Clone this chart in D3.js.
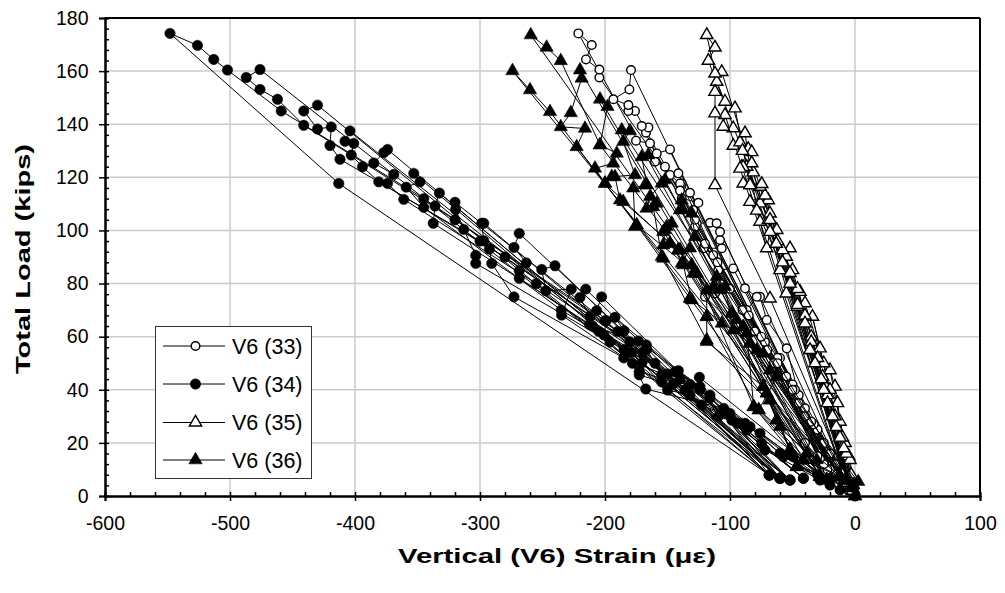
<!DOCTYPE html>
<html><head><meta charset="utf-8">
<script src="https://cdn.jsdelivr.net/npm/d3@7"></script>
<style>body{margin:0;background:#fff}svg{display:block}</style>
</head><body><svg id="c" width="1005" height="593"></svg>
<script>
const xTicks = [-600,-500,-400,-300,-200,-100,0,100];
const yTicks = [0,20,40,60,80,100,120,140,160,180];
const seriesNames = ["V6 (33)","V6 (34)","V6 (35)","V6 (36)"];
const xTitle = "Vertical (V6) Strain (\u03bc\u03b5)";
const yTitle = "Total Load (kips)";

// [strain (με), load (kips)] in recorded order
const v6_33 = [
[0,0],[-8,8],[-20,16],[-30,25],[-40,33],[-50,42],[-60,52],
[-3,3],[-15,12],[-33,27],[-45,38],[-54.6,55.6],[-70.6,66.3],[-76,75],
[-8,6],[-25,20],[-48,40],[-62,52],[-86.6,70],[-78.6,75],[-88,78.2],
[-10,5],[-35,28],[-65,50],[-120,75],[-112,76.3],[-109.4,85.1],[-97.4,85.7],
[-12,6],[-40,30],[-72,58],[-113.4,90.7],[-121.4,93.3],[-106.6,93.3],[-108,96.4],[-108,99.5],
[-15,8],[-45,35],[-80,62],[-121,93.3],[-129.4,100.2],[-126.6,102.7],[-116,102.9],[-110.7,102.7],
[-18,9],[-50,40],[-90,70],[-128,101.4],[-129.4,107.7],[-125.3,110.4],[-138.6,112.1],[-132,114.2],
[-20,10],[-55,45],[-100,78],[-138.6,117.7],[-140,117.7],[-148,120.9],[-141.3,121.5],
[-22,10],[-62,50],[-110,88],[-152,124],[-160,125.9],[-158.6,129],[-148,130.5],
[-25,12],[-70,55],[-120,95],[-164,132.8],[-175.2,133.8],[-167.2,136.8],[-165.3,138.8],[-170.6,139.3],
[-28,14],[-75,60],[-128,104],[-176,145],[-181.3,145],[-181.3,147.2],[-193.3,149.4],[-180.5,153.1],[-179.2,160.4],
[-30,15],[-85,68],[-140,115],[-204.5,157.6],[-204.5,160.6],[-215.2,164.4],[-210.6,169.8],[-221.3,174.2],
[-40,20],[-5,2]
];
const v6_34 = [
[0,0],[-20,6.5],[-49.4,14.8],[-76,23.6],[-100,31.1],[-116,36.8],[-124.5,44.7],
[-12,2.3],[-30,8],[-57.4,14.8],[-84,26.1],[-109.3,29.9],[-124,41.2],[-141.3,47.2],
[-20,4.1],[-60,16.1],[-88,27.4],[-122.6,34.3],[-136,39.9],[-145.3,42.2],[-154.7,45.6],[-166.6,55.2],[-173.3,58.4],
[-28,6],[-72,17.3],[-93.3,27.4],[-132,38],[-149.9,39.9],[-170.4,50.2],[-178.6,54],[-184.8,62.2],[-192,67.3],
[-41.3,6.7],[-74.6,19.8],[-86.7,24.8],[-154.7,43],[-172.6,45.6],[-184.8,55.2],[-200.8,60.6],[-199,66],[-206.7,69.8],[-202.7,75],
[-52,6],[-98.6,28.6],[-144,46.8],[-167,56.9],[-212.5,64.6],[-212,67.5],[-220,74.8],[-215.4,77.9],
[-60,6.7],[-105,33],[-167.4,40.3],[-178,50],[-234.7,68.1],[-227,77.9],[-247.4,77.3],[-250.6,85.3],[-240,86.7],
[-68.6,7.9],[-116,38],[-172.6,47],[-205,62],[-268.6,82],[-268.6,84.8],[-263,87.8],[-272.8,93.6],[-268.6,98.9],
[-60,6.7],[-124,40],[-185,52],[-272.8,75],[-290.6,87.6],[-292.5,93],[-297,96.1],[-298.6,102.7],[-297,102.7],
[-52,6],[-132,42],[-196,58],[-303.4,87.6],[-303.4,90.6],[-313,100.4],[-319.5,107.9],[-320,110.6],
[-41.3,6.7],[-140,44],[-210,64],[-337.4,102.7],[-336,109.2],[-332.5,114.1],
[-60,6.7],[-150,46],[-235,70],[-345,108.7],[-359,116.3],[-348,118.3],[-353,121.5],
[-68.6,7.9],[-160,50],[-255,80],[-361,111.7],[-374,117.7],[-369,121.1],[-385,125.4],[-377,129.3],[-374,130.5],
[-60,6.7],[-170,54],[-280,90],[-381,118.3],[-394,124],[-403,128.4],[-401,132.8],[-408,133.6],[-404,137.5],
[-52,6],[-180,58],[-300,96],[-412,126.8],[-420,132],[-419,139],[-430,138.2],[-441,145],[-430,147.2],
[-68.6,7.9],[-190,62],[-320,104],[-441,139.6],[-462,149.4],[-476,153.1],[-487,157.6],[-476,160.6],
[-60,6.7],[-200,66],[-345,112],[-459,145],[-502,160.4],[-513,164.4],[-526,169.7],[-548,174.2],[-413,117.7],[-68.6,7.9]
];
const v6_35 = [
[0,0],[-3,8],[-5,15],[-8,20],[-12,28],[-16,41.2],[-20,47.4],
[-1,2],[-4,13.6],[-10,22],[-14,35],[-20,40],[-28,55.6],[-34,67.5],
[-2,3],[-7,16],[-16,30],[-25,50],[-40,72.6],[-46,71.3],[-44,76.9],[-55,76.3],
[-3,4],[-9,18],[-22,38],[-35,60],[-50,85.1],[-60,85.1],[-55,90.1],[-52,93.3],[-58,92.6],
[-4,5],[-12,22],[-26,45],[-40,68],[-62.6,100.2],[-68,99.5],[-70.6,93.3],[-76,103.3],[-69.4,103.9],
[-5.6,6.8],[-15,26],[-30,52],[-46,78],[-68,106.4],[-69.4,111.4],[-76,110.2],[-84,110.8],[-72,113.2],
[-6,5],[-18,30],[-35,58],[-52,84],[-76,116.5],[-84,117.1],[-74.6,117.5],[-89.4,117.7],[-81.4,121.9],
[-8,7],[-22,35],[-40,65],[-62,96],[-86.6,124],[-90.6,124],[-82.6,125.3],[-89.4,123.9],[-92,123.3],
[-10,8],[-25,40],[-46,72],[-68,104],[-85.4,130.7],[-82.6,129.5],[-97.4,131.9],[-92,133.2],
[-6,6],[-27,44],[-52,80],[-78.6,107.5],[-88,136.6],[-97.4,138.5],[-105.4,139.1],[-104,143.5],
[-8,6],[-32,50],[-58,88],[-84,117.1],[-96,146],[-104,148.5],[-110.6,156],[-106.6,159.7],
[-3,3],[-36,55],[-63,95],[-90,130],[-117.3,163.9],[-112,168.9],[-118.6,173.6],[-112,159.1],[-112,152.2],[-112,144.1],[-112,117.1],[-68,74.4],[-2,2]
];
const v6_36 = [
[0,0],[-12,7.3],[-28,7.3],[-41.4,13.6],[-52,17.3],[-62.6,28.6],[-70.6,38.7],
[-1.4,4.1],[-22.6,6],[-38.6,16.1],[-60,26.1],[-68,36.1],[-73.4,41.2],[-68,47.4],
[2.6,5.4],[-6.6,6],[-46.6,11],[-30.6,13.6],[-77,32.4],[-62.6,44.9],[-73.4,53.7],[-78.6,55],[-84,57.5],
[-12,7.3],[-52,17.3],[-81,33.6],[-86.6,61.3],[-89.4,63.7],[-94.6,66.3],[-98.6,68.8],
[-6.6,6],[-41.4,13.6],[-70.6,38.7],[-97.4,62.5],[-104,78.8],[-108,77.6],[-113.4,78.8],[-110.6,82.6],
[-22.6,6],[-46.6,11],[-73.4,41.2],[-118.6,58.1],[-118.6,67.5],[-118.6,77.6],[-126.6,83.8],[-129.4,83.8],[-130.6,87],
[-28,7.3],[-52,17.3],[-84,57.5],[-132,74.4],[-130.6,73.8],[-137.4,87],[-138.6,87.6],[-132,93.3],[-141.4,92.6],
[-12,7.3],[-62.6,28.6],[-98.6,68.8],[-128,97.6],[-130.6,106.4],[-138.6,107.7],[-140,107.7],[-138.7,111.4],
[-6.6,6],[-68,36.1],[-106.6,65],[-140,92.6],[-148,95.1],[-153.4,94.5],[-152,100.2],[-150.6,101.4],[-146.6,102.7],[-153.4,99.5],
[-22.6,6],[-77,32.4],[-118.6,67.5],[-154.6,90.1],[-161.4,108.9],[-158.6,110.2],[-166.7,108.3],[-164,112.7],[-154.7,117.7],[-152,119],
[-28,7.3],[-81,33.6],[-126.6,83.8],[-174.6,102],[-176,101.4],[-177.4,115.9],[-168,117.1],[-166.6,117.1],[-170.6,127.7],[-165.4,128.4],
[-12,7.3],[-89.4,63.7],[-141.4,92.6],[-185.4,110.8],[-188,111.4],[-192,120.2],[-194.6,120.2],[-176,120.9],[-185.4,133.4],[-180,137.5],[-186.6,137.8],
[-1.4,4.1],[-118.6,58.7],[-153.4,89.5],[-200,117.7],[-208,123.4],[-193.4,125.3],[-190.6,129],[-204,132.2],[-198,146.6],[-204,149.4],
[-22.6,6],[-132,74.4],[-174.6,102],[-222.7,131.5],[-216,138.4],[-235.4,139],[-227.4,144.3],[-218.7,157.3],[-220,160.4],
[-28,7.3],[-148,95.1],[-200,117.7],[-244,144.7],[-260,152.9],[-274,160.1],
[-6.6,6],[-140,92.6],[-204,132.2],[-235.4,163.9],[-246.7,168.9],[-259.4,173.6],[-2,3]
];

const series = [
  {name: seriesNames[0], data: v6_33, shape: "circle", filled: false},
  {name: seriesNames[1], data: v6_34, shape: "circle", filled: true},
  {name: seriesNames[2], data: v6_35, shape: "triangle", filled: false},
  {name: seriesNames[3], data: v6_36, shape: "triangle", filled: true}
];

const L = 105, R = 980, T = 18, B = 496;
const x = d3.scaleLinear().domain([-600,100]).range([L,R]);
const y = d3.scaleLinear().domain([0,180]).range([B,T]);
const svg = d3.select("#c");
const FONT = "'Liberation Sans', Arial, sans-serif";

// gridlines
const g = svg.append("g");
g.selectAll("line.hg").data(yTicks.filter(v=>v>0 && v<180)).join("line")
  .attr("x1",L).attr("x2",R).attr("y1",d=>y(d)).attr("y2",d=>y(d))
  .attr("stroke","#cbcbcb").attr("stroke-width",1.5);
g.selectAll("line.vg").data(xTicks.filter(v=>v>-600 && v<100)).join("line")
  .attr("y1",T).attr("y2",B).attr("x1",d=>x(d)).attr("x2",d=>x(d))
  .attr("stroke","#cbcbcb").attr("stroke-width",1.5);

// frame top/right
svg.append("line").attr("x1",L).attr("x2",R).attr("y1",T).attr("y2",T).attr("stroke","#000").attr("stroke-width",2);
svg.append("line").attr("x1",R).attr("x2",R).attr("y1",T).attr("y2",B).attr("stroke","#000").attr("stroke-width",2);

// data
const line = d3.line().x(d=>x(d[0])).y(d=>y(d[1]));
series.forEach(s => {
  const sg = svg.append("g");
  sg.append("path").attr("d", line(s.data)).attr("fill","none").attr("stroke","#000").attr("stroke-width",1);
  drawMarkers(sg, s, s.data.map(d=>[x(d[0]), y(d[1])]));
});
function drawMarkers(sel, s, pts){
  if (s.shape === "circle") {
    sel.selectAll("circle").data(pts).join("circle")
      .attr("cx",d=>d[0]).attr("cy",d=>d[1])
      .attr("r", s.filled ? 5.2 : 4.3)
      .attr("fill", s.filled ? "#000" : "#fff")
      .attr("stroke","#000").attr("stroke-width", s.filled ? 0.5 : 1.4);
  } else {
    const sym = d3.symbol().type(d3.symbolTriangle).size(s.filled ? 78 : 66);
    sel.selectAll("path.m").data(pts).join("path").attr("class","m")
      .attr("d", sym).attr("transform", d=>`translate(${d[0]},${d[1]})`)
      .attr("fill", s.filled ? "#000" : "#fff")
      .attr("stroke","#000").attr("stroke-width", s.filled ? 0.5 : 1.4);
  }
}

// axes
const xMinor = d3.range(-600,101,20);
const yMinor = d3.range(0,181,4);
const xAxis = svg.append("g").attr("transform",`translate(0,${B})`)
  .call(d3.axisBottom(x).tickValues(xTicks).tickSize(5).tickPadding(15).tickFormat(d3.format("d")));
svg.append("g").attr("transform",`translate(0,${B})`)
  .call(d3.axisBottom(x).tickValues(xMinor).tickSize(-4).tickFormat(""));
const yAxis = svg.append("g").attr("transform",`translate(${L},0)`)
  .call(d3.axisLeft(y).tickValues(yTicks).tickSize(6).tickPadding(10.5).tickFormat(d3.format("d")));
svg.append("g").attr("transform",`translate(${L},0)`)
  .call(d3.axisLeft(y).tickValues(yMinor).tickSize(-4).tickFormat(""));
svg.selectAll(".domain").attr("stroke","#000").attr("stroke-width",2);
svg.selectAll(".tick line").attr("stroke","#000").attr("stroke-width",1.5);
svg.selectAll(".tick text").attr("font-family",FONT).attr("font-size",19.5).attr("fill","#000");
xAxis.selectAll(".tick text").text(d=>String(d));
yAxis.selectAll(".tick text").text(d=>String(d));

// titles
svg.append("text").attr("x",557).attr("y",563).attr("text-anchor","middle")
  .attr("font-family",FONT).attr("font-weight","bold").attr("font-size",21)
  .attr("textLength",318).attr("lengthAdjust","spacingAndGlyphs").text(xTitle);
svg.append("text").attr("transform","translate(30,259) rotate(-90)").attr("text-anchor","middle")
  .attr("font-family",FONT).attr("font-weight","bold").attr("font-size",21)
  .attr("textLength",230).attr("lengthAdjust","spacingAndGlyphs").text(yTitle);

// legend
const lg = svg.append("g");
lg.append("rect").attr("x",155.5).attr("y",326.5).attr("width",156).attr("height",152)
  .attr("fill","#fff").attr("stroke","#333").attr("stroke-width",1);
const rowY = [346,384,422.5,460];
series.forEach((s,i)=>{
  const ry = rowY[i];
  lg.append("line").attr("x1",163).attr("x2",225).attr("y1",ry).attr("y2",ry).attr("stroke","#000").attr("stroke-width",1);
  drawMarkers(lg.append("g"), s, [[195.5, ry]]);
  lg.append("text").attr("x",232).attr("y",ry+7.5).attr("font-family",FONT).attr("font-size",21.5).text(s.name);
});
</script>
</body></html>
